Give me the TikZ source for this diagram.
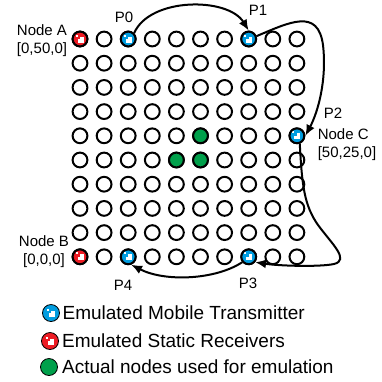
\documentclass[tikz,border=0pt]{standalone}
\usepackage{fontspec}
\setmainfont{Liberation Sans}
\usepackage{tikz}
\usetikzlibrary{arrows.meta,positioning}
\usepackage{xcolor}
\definecolor{mobblue}{RGB}{0,157,224}
\definecolor{rxred}{RGB}{237,28,36}
\definecolor{actgreen}{RGB}{0,160,75}
\tikzset{
  gridnode/.style={circle, draw, line width=2pt, minimum size=14.8pt, inner sep=0pt},
  checker/.style={path picture={
      \fill[white] ([shift={(-2.5pt,2.5pt)}]path picture bounding box.center) rectangle ++(6pt,-6pt);
      \fill[#1] ([shift={(-2.5pt,2.5pt)}]path picture bounding box.center) rectangle ++(2.5pt,-2.5pt);
      \fill[white] ([shift={(-4.5pt,4.5pt)}]path picture bounding box.center) rectangle ++(2pt,-2pt);
  }},
  mobnode/.style={gridnode, fill=mobblue, checker=mobblue},
  rxnode/.style={gridnode, fill=rxred, checker=rxred},
  actnode/.style={gridnode, fill=actgreen},
  legicon/.style={circle, draw, line width=0.8pt, minimum size=17pt, inner sep=0pt},
  trackarrow/.style={-{Latex[length=11pt,width=9pt]}, line width=2pt},
  lbl/.style={font=\fontsize{15}{18}\selectfont, inner sep=1pt},
  legtxt/.style={font=\fontsize{19}{22}\selectfont, inner sep=1pt, anchor=west},
}
\begin{document}
\begin{tikzpicture}[x=1pt, y=-1pt]
  \useasboundingbox (0,0) rectangle (382,381);

  % sensor grid
  \foreach \i in {1,...,10}
    \foreach \j in {1,...,10}
      \node[gridnode] (n-\i-\j) at ({80+24.1*(\i-1)},{39+24.2*(\j-1)}) {};

  % emulated nodes
  \node[rxnode] (rxa) at (n-1-1) {};
  \node[rxnode] (rxb) at (n-1-10) {};
  \node[mobnode] (p0) at (n-3-1) {};
  \node[mobnode] (p1) at (n-8-1) {};
  \node[mobnode] (p2) at (n-10-5) {};
  \node[mobnode] (p3) at (n-8-10) {};
  \node[mobnode] (p4) at (n-3-10) {};
  \node[actnode] (act1) at (n-6-5) {};
  \node[actnode] (act2) at (n-5-6) {};
  \node[actnode] (act3) at (n-6-6) {};

  % labels
  \node[lbl] (lp0) at (124,17) {P0};
  \node[lbl] (lp1) at (258,10) {P1};
  \node[lbl] (lp2) at (333,113) {P2};
  \node[lbl] (lp3) at (248,283) {P3};
  \node[lbl] (lp4) at (123,285) {P4};
  \node[lbl, align=center] (lna) at (42,41) {Node A\\{[0,50,0]}};
  \node[lbl, align=center] (lnb) at (44,252) {Node B\\{[0,0,0]}};
  \node[lbl, align=left] (lnc) at (347,145) {Node C\\{[50,25,0]}};

  % mobile track
  \draw[trackarrow] (p0.north east) .. controls (150,-3) and (228,-3) .. (p1.north);
  \draw[trackarrow] (p1.20) .. controls (290,22) and (318,8) .. (323,45)
    .. controls (327,80) and (318,112) .. (p2.east);
  \draw[trackarrow] (p2.-70) .. controls (302,185) and (304,205) .. (318,225)
    .. controls (332,244) and (350,260) .. (334,264)
    .. controls (320,267) and (280,266) .. (p3.-40);
  \draw[trackarrow] (p3.-140) .. controls (215,280) and (165,282) .. (p4.-70);

  % legend
  \node[legicon, fill=mobblue, checker=mobblue] (legm) at (51,313) {};
  \node[legtxt, right=1.5pt of legm] (legmt) {Emulated Mobile Transmitter};
  \node[legicon, fill=rxred, checker=rxred] (legr) at (50,341) {};
  \node[legtxt, right=2pt of legr] (legrt) {Emulated Static Receivers};
  \node[legicon, fill=actgreen] (lega) at (49,367) {};
  \node[legtxt, right=3pt of lega] (legat) {Actual nodes used for emulation};
\end{tikzpicture}
\end{document}
